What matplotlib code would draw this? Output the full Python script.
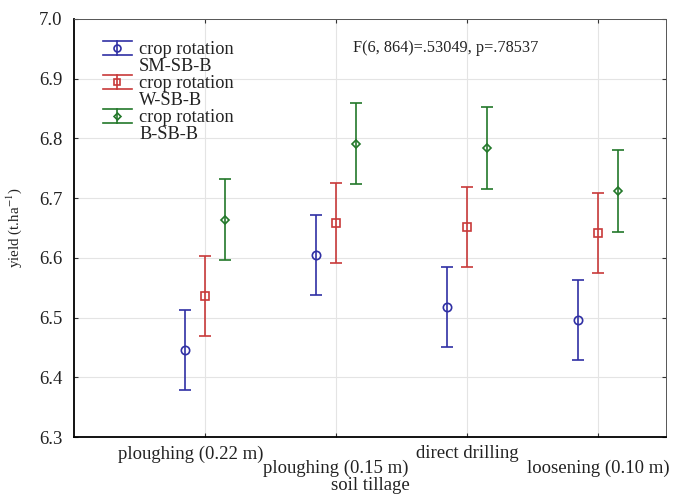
import matplotlib
matplotlib.use("Agg")
import matplotlib.pyplot as plt
import matplotlib.transforms as mtransforms
import numpy as np
from matplotlib.legend_handler import HandlerBase
from matplotlib.lines import Line2D
from matplotlib.patches import Patch

plt.rcParams["font.family"] = ["Liberation Serif", "DejaVu Serif"]
plt.rcParams["mathtext.fontset"] = "stix"

# data (means and half-widths of the error bars)
tillage = ["ploughing (0.22 m)", "ploughing (0.15 m)", "direct drilling", "loosening (0.10 m)"]
rotations = ["SM-SB-B", "W-SB-B", "B-SB-B"]
mean_sm = [6.445, 6.605, 6.517, 6.496]
mean_w = [6.536, 6.659, 6.651, 6.641]
mean_b = [6.664, 6.791, 6.784, 6.712]
err_sm = [0.067, 0.067, 0.067, 0.067]
err_w = [0.067, 0.067, 0.067, 0.067]
err_b = [0.068, 0.068, 0.068, 0.068]

COLORS = ["#3030a4", "#c83a3a", "#23782a"]
MARKERS = ["o", "s", "D"]
MSIZE = [6, 6, 4.5]
OFFSETS = [-0.155, 0.0, 0.155]
FS = 13.5
TXT = "#222222"


class ErrHandle(HandlerBase):
    """Legend handle drawn like an 'I' shaped error bar."""

    def create_artists(self, legend, orig, xdescent, ydescent, width, height, fontsize, trans):
        c = orig.get_color()
        cx = width / 2 - xdescent
        cy = height / 2 - ydescent
        d = 0.55 * height
        x0, x1 = -xdescent, width - xdescent
        arts = [
            Line2D([x0, x1], [cy + d, cy + d], color=c, lw=1.2),
            Line2D([x0, x1], [cy - d, cy - d], color=c, lw=1.2),
            Line2D([cx, cx], [cy - d, cy + d], color=c, lw=1.2),
            Line2D([cx], [cy], marker=orig.get_marker(), markersize=orig.get_markersize(),
                   mfc="none", mec=c, mew=1.2, ls=""),
        ]
        for a in arts:
            a.set_transform(trans)
        return arts


fig = plt.figure(figsize=(6.77, 4.95), dpi=100)
ax = fig.add_axes([0.109, 0.117, 0.875, 0.845])

x = np.arange(1, len(tillage) + 1)
series = [(mean_sm, err_sm), (mean_w, err_w), (mean_b, err_b)]
for i, (m, e) in enumerate(series):
    ax.errorbar(x + OFFSETS[i], m, yerr=e, fmt=MARKERS[i], color=COLORS[i],
                mfc="none", mec=COLORS[i], ms=MSIZE[i], mew=1.2,
                elinewidth=1.2, capsize=4.5, capthick=1.2, zorder=3)

ax.set_xlim(0.0, 4.52)
ax.set_ylim(6.3, 7.0)
yt = np.arange(6.3, 7.01, 0.1)
ax.set_yticks(yt)
ax.set_yticklabels([f"{v:.1f}" for v in yt], fontsize=FS)
ax.set_xticks(x)
ax.set_xticklabels(tillage, fontsize=FS)

ax.grid(True, color="#e4e4e4", lw=0.8, zorder=0)
ax.set_axisbelow(True)
ax.tick_params(direction="in", length=3, top=True, right=True, colors="#333333")
ax.tick_params(axis="both", labelcolor=TXT)
ax.tick_params(axis="y", pad=8)
for s in ["left", "bottom"]:
    ax.spines[s].set_linewidth(1.3)
for s in ["top", "right"]:
    ax.spines[s].set_linewidth(0.7)
    ax.spines[s].set_color("#555555")

# staggered category labels; the first one sits a little left of its tick
for i, t in enumerate(ax.xaxis.get_major_ticks()):
    t.set_pad(6 if i % 2 == 0 else 16)
lab0 = ax.xaxis.get_major_ticks()[0].label1
lab0.set_transform(lab0.get_transform() + mtransforms.ScaledTranslation(-0.14, 0, fig.dpi_scale_trans))

ax.set_xlabel("soil tillage", fontsize=FS, labelpad=0, color=TXT)
ax.set_ylabel(r"yield (t.ha$^{-1}$)", fontsize=10.8, labelpad=11, color=TXT)

ax.text(0.471, 0.93, "F(6, 864)=.53049, p=.78537", transform=ax.transAxes,
        fontsize=11.7, va="center", ha="left", color=TXT)

handles, labels = [], []
blank = Patch(facecolor="none", edgecolor="none")
for i, r in enumerate(rotations):
    handles.append(Line2D([], [], color=COLORS[i], marker=MARKERS[i], ms=MSIZE[i] - 1))
    labels.append("crop rotation")
    handles.append(blank)
    labels.append(r)
ax.legend(handles, labels, handler_map={Line2D: ErrHandle()}, loc="upper left",
          bbox_to_anchor=(0.033, 0.968), frameon=False, borderpad=0, fontsize=13.2,
          handlelength=1.6, handletextpad=0.4, labelspacing=0.0, labelcolor=TXT)

fig.savefig("out.png", dpi=100)
